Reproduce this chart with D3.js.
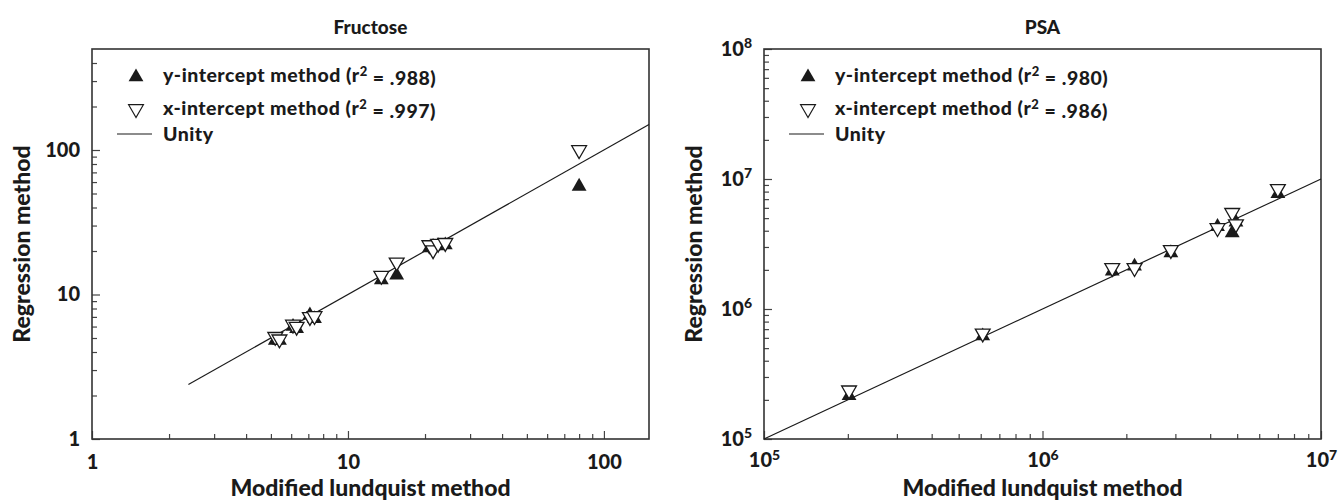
<!DOCTYPE html>
<html>
<head>
<meta charset="utf-8">
<script src="https://cdn.jsdelivr.net/npm/d3@7"></script>
<style>
  body { margin: 0; background: #fff; }
  svg { font-family: Lato, "Open Sans", sans-serif; font-weight: 900; }
</style>
</head>
<body>
<svg id="chart" width="1339" height="504"></svg>
<script>
// Fructose panel
var fructoseLundquist = [5.2, 5.4, 6.1, 6.3, 7.1, 7.4, 13.5, 15.5, 20.8, 21.5, 22.5, 24, 80];
var fructoseYIntercept = [4.8, 4.8, 6.0, 5.8, 7.2, 6.8, 12.6, 13.6, 21.0, 21.5, 21.7, 22.0, 56];
var fructoseXIntercept = [5.1, 4.9, 6.2, 6.0, 7.0, 7.1, 13.5, 16.7, 22.0, 20.3, 22.5, 22.8, 100];
var fructoseTicks = [1, 10, 100];
var fructoseTickLabels = ["1", "10", "100"];

// PSA panel
var psaLundquist = [2.02e5, 6.1e5, 1.78e6, 2.14e6, 2.89e6, 4.25e6, 4.8e6, 4.95e6, 7.0e6];
var psaYIntercept = [2.15e5, 6.2e5, 1.95e6, 2.13e6, 2.7e6, 4.3e6, 3.85e6, 4.65e6, 7.7e6];
var psaXIntercept = [2.37e5, 6.5e5, 2.07e6, 2.07e6, 2.85e6, 4.2e6, 5.5e6, 4.5e6, 8.4e6];
var psaXTicks = [1e5, 1e6, 1e7];
var psaYTicks = [1e5, 1e6, 1e7, 1e8];

var panels = [
  {
    title: "Fructose", left: 92,
    xDomain: [1, 150], yDomain: [1, 500],
    x: fructoseLundquist, yInt: fructoseYIntercept, xInt: fructoseXIntercept,
    xTicks: fructoseTicks, yTicks: fructoseTicks, sup: false,
    unity: [2.38, 150],
    r2: [".988", ".997"]
  },
  {
    title: "PSA", left: 764,
    xDomain: [1e5, 1e7], yDomain: [1e5, 1e8],
    x: psaLundquist, yInt: psaYIntercept, xInt: psaXIntercept,
    xTicks: psaXTicks, yTicks: psaYTicks, sup: true,
    unity: [1e5, 1e7],
    r2: [".980", ".986"]
  }
];

var marginTop = 49, plotW = 557, plotH = 390;
var svg = d3.select("#chart");
var ink = "#1a1a1a";

// minor ticks 2..9 for every decade inside the domain
function minorTicks(domain) {
  var out = [];
  for (var e = Math.floor(Math.log10(domain[0])); e <= Math.ceil(Math.log10(domain[1])); e++) {
    for (var m = 2; m <= 9; m++) {
      var v = m * Math.pow(10, e);
      if (v > domain[0] && v < domain[1]) out.push(v);
    }
  }
  return out;
}

function label(sel, p) {
  sel.selectAll(".tick text").each(function (d) {
    var t = d3.select(this).text("");
    if (p.sup) {
      t.append("tspan").text("10");
      t.append("tspan").attr("dy", "-0.55em").attr("font-size", "14px").text(Math.round(Math.log10(d)));
    } else {
      t.text(fructoseTickLabels[fructoseTicks.indexOf(d)]);
    }
  });
}

var tri = d3.symbol().type(d3.symbolTriangle).size(95);

panels.forEach(function (p) {
  var g = svg.append("g").attr("transform", "translate(" + p.left + "," + marginTop + ")");
  var x = d3.scaleLog().domain(p.xDomain).range([0, plotW]);
  var y = d3.scaleLog().domain(p.yDomain).range([plotH, 0]);

  // minor ticks
  g.append("g").attr("transform", "translate(0," + plotH + ")")
    .call(d3.axisBottom(x).tickValues(minorTicks(p.xDomain)).tickSize(-5).tickFormat(""))
    .call(function (a) { a.select(".domain").remove(); });
  g.append("g")
    .call(d3.axisLeft(y).tickValues(minorTicks(p.yDomain)).tickSize(-5).tickFormat(""))
    .call(function (a) { a.select(".domain").remove(); });

  // major ticks + labels
  var xa = g.append("g").attr("transform", "translate(0," + plotH + ")")
    .call(d3.axisBottom(x).tickValues(p.xTicks).tickSize(-8).tickPadding(p.sup ? 14 : 16))
    .call(function (a) { a.select(".domain").remove(); });
  var ya = g.append("g")
    .call(d3.axisLeft(y).tickValues(p.yTicks).tickSize(-8).tickPadding(12))
    .call(function (a) { a.select(".domain").remove(); });
  [xa, ya].forEach(function (a) {
    a.selectAll(".tick text").attr("font-size", "20px").attr("font-family", "Lato, sans-serif")
      .attr("font-weight", 900).attr("fill", ink);
    label(a, p);
  });
  g.selectAll(".tick line").attr("stroke", "#444").attr("stroke-width", 1.2);

  // frame
  g.append("rect").attr("width", plotW).attr("height", plotH)
    .attr("fill", "none").attr("stroke", "#333").attr("stroke-width", 1.6);

  // unity line
  g.append("line")
    .attr("x1", x(p.unity[0])).attr("y1", y(p.unity[0]))
    .attr("x2", x(p.unity[1])).attr("y2", y(p.unity[1]))
    .attr("stroke", ink).attr("stroke-width", 1.2);

  // y-intercept (filled, up)
  g.selectAll(".yint").data(p.x).enter().append("path")
    .attr("class", "yint")
    .attr("d", tri)
    .attr("transform", function (d, i) { return "translate(" + x(d) + "," + y(p.yInt[i]) + ")"; })
    .attr("fill", ink);

  // x-intercept (open, down)
  g.selectAll(".xint").data(p.x).enter().append("path")
    .attr("class", "xint")
    .attr("d", tri)
    .attr("transform", function (d, i) { return "translate(" + x(d) + "," + y(p.xInt[i]) + ") rotate(180)"; })
    .attr("fill", "#fff").attr("stroke", ink).attr("stroke-width", 1.3);

  // legend
  var lg = g.append("g").attr("font-size", "19.5px").attr("letter-spacing", "0.5px").attr("fill", ink);
  lg.append("path").attr("d", tri).attr("transform", "translate(44,28)").attr("fill", ink);
  lg.append("path").attr("d", tri).attr("transform", "translate(44,60) rotate(180)")
    .attr("fill", "#fff").attr("stroke", ink).attr("stroke-width", 1.2);
  lg.append("line").attr("x1", 25).attr("x2", 60).attr("y1", 85).attr("y2", 85)
    .attr("stroke", ink).attr("stroke-width", 1.2);
  ["y-intercept method (r", "x-intercept method (r"].forEach(function (s, i) {
    var t = lg.append("text").attr("x", 71).attr("y", 33 + i * 33);
    t.append("tspan").text(s);
    t.append("tspan").attr("dy", "-0.5em").attr("font-size", "13px").text("2");
    t.append("tspan").attr("dy", "0.5em").text(" = " + p.r2[i] + ")");
  });
  lg.append("text").attr("x", 71).attr("y", 92).text("Unity");

  // titles
  g.append("text").attr("x", plotW / 2).attr("y", -15).attr("text-anchor", "middle")
    .attr("font-size", "19px").attr("fill", ink).text(p.title);
  g.append("text").attr("x", plotW / 2).attr("y", 447).attr("text-anchor", "middle")
    .attr("font-size", "23px").attr("fill", ink).text("Modified lundquist method");
  g.append("text").attr("transform", "translate(-62," + (plotH / 2) + ") rotate(-90)")
    .attr("text-anchor", "middle").attr("font-size", "23px").attr("fill", ink)
    .text("Regression method");
});
</script>
</body>
</html>
